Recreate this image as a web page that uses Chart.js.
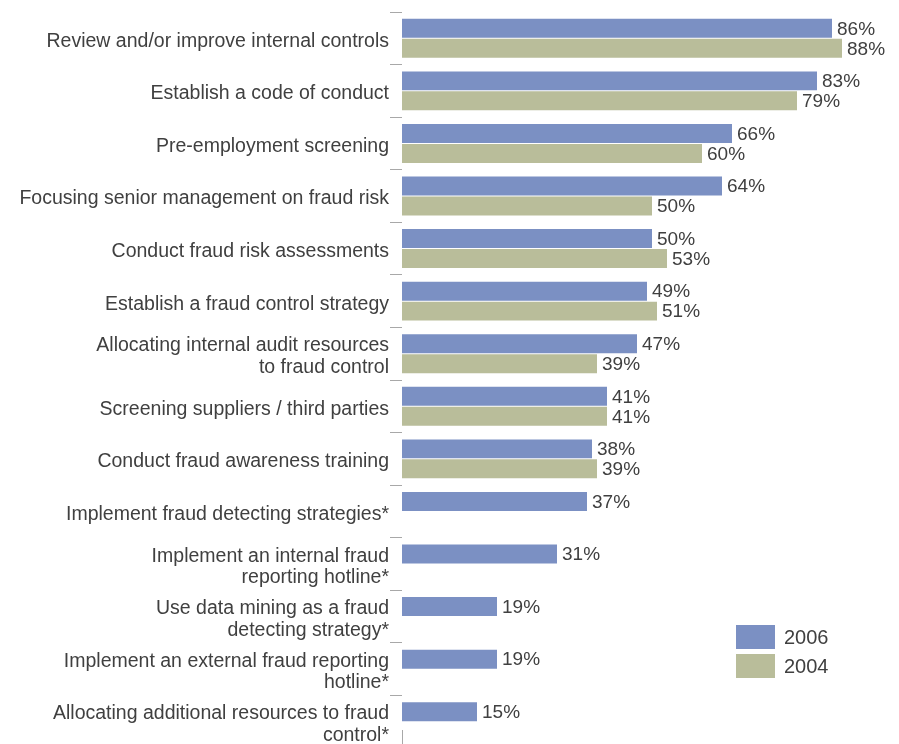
<!DOCTYPE html>
<html>
<head>
<meta charset="utf-8">
<title>Fraud control measures</title>
<script src="https://cdn.jsdelivr.net/npm/chart.js@4/dist/chart.umd.min.js"></script>
<style>
  html, body { margin: 0; padding: 0; background: #fff; overflow: hidden; }
  #wrap { width: 899px; height: 744px; overflow: hidden; }
</style>
</head>
<body>
<div id="wrap"><canvas id="measuresChart" width="899" height="748"></canvas></div>
<script>
"use strict";

// ----------------------------
// Data
// ----------------------------
const measures = [
  "Review and/or improve internal controls",
  "Establish a code of conduct",
  "Pre-employment screening",
  "Focusing senior management on fraud risk",
  "Conduct fraud risk assessments",
  "Establish a fraud control strategy",
  ["Allocating internal audit resources", "to fraud control"],
  "Screening suppliers / third parties",
  "Conduct fraud awareness training",
  "Implement fraud detecting strategies*",
  ["Implement an internal fraud", "reporting hotline*"],
  ["Use data mining as a fraud", "detecting strategy*"],
  ["Implement an external fraud reporting", "hotline*"],
  ["Allocating additional resources to fraud", "control*"]
];

const values2006 = [86, 83, 66, 64, 50, 49, 47, 41, 38, 37, 31, 19, 19, 15];
const values2004 = [88, 79, 60, 50, 53, 51, 39, 41, 39, null, null, null, null, null];

const seriesLabels = ["2006", "2004"];
const seriesColors = ["#7b90c3", "#b9bd9a"];

const TEXT_COLOR = "#404040";
const RULE_COLOR = "#a8a8a8";
const FONT = "'Liberation Sans', Arial, sans-serif";

// ----------------------------
// Plugins
// ----------------------------
// percentage printed just past the end of each bar
const valueLabels = {
  id: "valueLabels",
  afterDatasetsDraw(chart) {
    const ctx = chart.ctx;
    ctx.save();
    ctx.font = `19px ${FONT}`;
    ctx.fillStyle = TEXT_COLOR;
    ctx.textAlign = "left";
    ctx.textBaseline = "middle";
    chart.data.datasets.forEach((ds, i) => {
      const meta = chart.getDatasetMeta(i);
      meta.data.forEach((bar, j) => {
        const v = ds.data[j];
        if (v === null || v === undefined) return;
        ctx.fillText(`${v}%`, bar.x + 5, bar.y + 1);
      });
    });
    ctx.restore();
  }
};

// legend boxes in the lower right plus the stub of the axis line at the bottom
const sideLegend = {
  id: "sideLegend",
  afterDraw(chart) {
    const ctx = chart.ctx;
    const area = chart.chartArea;
    ctx.save();

    ctx.strokeStyle = RULE_COLOR;
    ctx.lineWidth = 1;
    ctx.beginPath();
    ctx.moveTo(area.left + 0.5, area.bottom - 18);
    ctx.lineTo(area.left + 0.5, area.bottom);
    ctx.stroke();

    const boxX = area.left + 334;
    const boxY = 625;
    ctx.font = `20px ${FONT}`;
    ctx.textAlign = "left";
    ctx.textBaseline = "middle";
    chart.data.datasets.forEach((ds, i) => {
      const y = boxY + i * 29;
      ctx.fillStyle = ds.backgroundColor;
      ctx.fillRect(boxX, y, 39, 24);
      ctx.fillStyle = TEXT_COLOR;
      ctx.fillText(ds.label, boxX + 48, y + 13);
    });
    ctx.restore();
  }
};

// ----------------------------
// Render Chart
// ----------------------------
const ctx = document.getElementById("measuresChart").getContext("2d");

new Chart(ctx, {
  type: "bar",
  data: {
    labels: measures,
    datasets: [
      {
        label: seriesLabels[0],
        data: values2006,
        backgroundColor: seriesColors[0],
        categoryPercentage: 0.76,
        barPercentage: 0.95
      },
      {
        label: seriesLabels[1],
        data: values2004,
        backgroundColor: seriesColors[1],
        categoryPercentage: 0.76,
        barPercentage: 0.95
      }
    ]
  },
  options: {
    indexAxis: "y",
    responsive: false,
    animation: false,
    layout: { padding: { top: 12, right: 2, bottom: 0, left: 0 } },
    plugins: {
      legend: { display: false },
      tooltip: { enabled: false }
    },
    scales: {
      x: {
        display: false,
        min: 0,
        max: 99
      },
      y: {
        offset: true,
        border: { display: false },
        grid: {
          offset: true,
          drawOnChartArea: false,
          drawTicks: true,
          tickLength: 12,
          color: RULE_COLOR,
          lineWidth: 1
        },
        ticks: {
          color: TEXT_COLOR,
          padding: 1,
          labelOffset: 3,
          autoSkip: false,
          font: { family: FONT, size: 19.5, lineHeight: 1.1 }
        },
        afterFit(scale) {
          scale.width = 402;
          // no extra room for the first and last labels
          scale.paddingTop = 0;
          scale.paddingBottom = 0;
        }
      }
    }
  },
  plugins: [valueLabels, sideLegend]
});
</script>
</body>
</html>
